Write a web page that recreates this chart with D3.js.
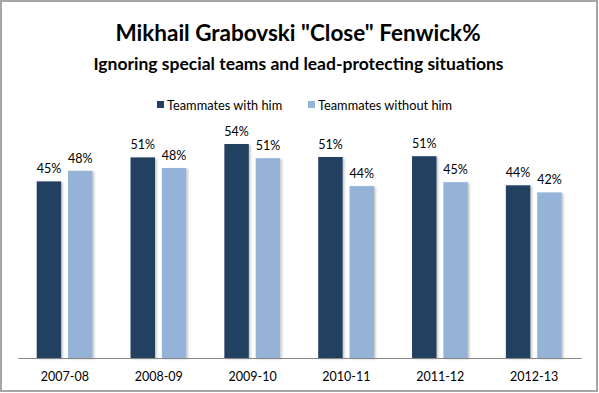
<!DOCTYPE html>
<html><head><meta charset="utf-8">
<script src="https://cdn.jsdelivr.net/npm/d3@7"></script>
<style>html,body{margin:0;padding:0;background:#fff;}svg{display:block;}</style>
</head><body>
<script>
const categories = ["2007-08","2008-09","2009-10","2010-11","2011-12","2012-13"];
const seriesNames = ["Teammates with him","Teammates without him"];
const withHim = [0.449,0.510,0.544,0.511,0.513,0.439];
const withoutHim = [0.476,0.483,0.508,0.437,0.447,0.421];
const yDomain = [0, 0.6];
const colors = ["#243F60","#95B3D7"];
const title = "Mikhail Grabovski \"Close\" Fenwick%";
const subtitle = "Ignoring special teams and lead-protecting situations";

const W = 599, H = 393;
const font = "Lato, 'Open Sans', sans-serif";
const svg = d3.select("body").append("svg").attr("width", W).attr("height", H);
svg.append("rect").attr("x",1).attr("y",1).attr("width",W-3).attr("height",H-3)
  .attr("fill","#fff").attr("stroke","#a6a6a6").attr("stroke-width",2);

const defs = svg.append("defs");
const f = defs.append("filter").attr("id","sh").attr("x","-20%").attr("y","-20%").attr("width","150%").attr("height","150%");
f.append("feDropShadow").attr("dx",1.5).attr("dy",1).attr("stdDeviation",1).attr("flood-color","#000").attr("flood-opacity",0.25);

svg.append("text").attr("x",298).attr("y",41).attr("text-anchor","middle")
  .attr("font-family",font).attr("font-weight","bold").attr("font-size",22.5).attr("fill","#000").text(title);
svg.append("text").attr("x",298.5).attr("y",70).attr("text-anchor","middle")
  .attr("font-family",font).attr("font-weight","bold").attr("font-size",17.5).attr("fill","#000").text(subtitle);

const x = d3.scaleBand().domain(categories).range([18,581]).padding(0);
const xi = d3.scaleBand().domain(seriesNames).range([18.7, 74.5]).paddingInner(0.22).paddingOuter(0);
const y = d3.scaleLinear().domain(yDomain).range([358, 122]);

const data = categories.map((c,i)=>({cat:c, vals:[withHim[i], withoutHim[i]]}));
const g = svg.append("g");
data.forEach(d=>{
  d.vals.forEach((v,j)=>{
    const bx = x(d.cat) + xi(seriesNames[j]);
    g.append("rect").attr("x",bx).attr("y",y(v)).attr("width",xi.bandwidth()).attr("height",y(0)-y(v))
      .attr("fill",colors[j]).attr("filter","url(#sh)");
    g.append("text").attr("x",bx+xi.bandwidth()/2).attr("y",y(v)-8).attr("text-anchor","middle")
      .attr("font-family",font).attr("font-size",12.5).attr("fill","#000").text(d3.format(".0%")(v));
  });
});

const xAxis = d3.axisBottom(x).tickSize(0).tickPadding(14);
const ax = svg.append("g").attr("transform",`translate(0,${y(0)})`).call(xAxis);
ax.select(".domain").attr("stroke","#868686").attr("stroke-width",1.2);
ax.selectAll("text").attr("font-family",font).attr("font-size",12.5).attr("fill","#000");

// legend
const leg = svg.append("g").attr("font-family",font).attr("font-size",12.8);
const legX = [157, 308];
seriesNames.forEach((n,i)=>{
  leg.append("rect").attr("x",legX[i]).attr("y",101).attr("width",7).attr("height",7).attr("fill",colors[i]);
  leg.append("text").attr("x",legX[i]+10).attr("y",109.5).attr("fill","#000").text(n);
});
</script>
</body></html>
